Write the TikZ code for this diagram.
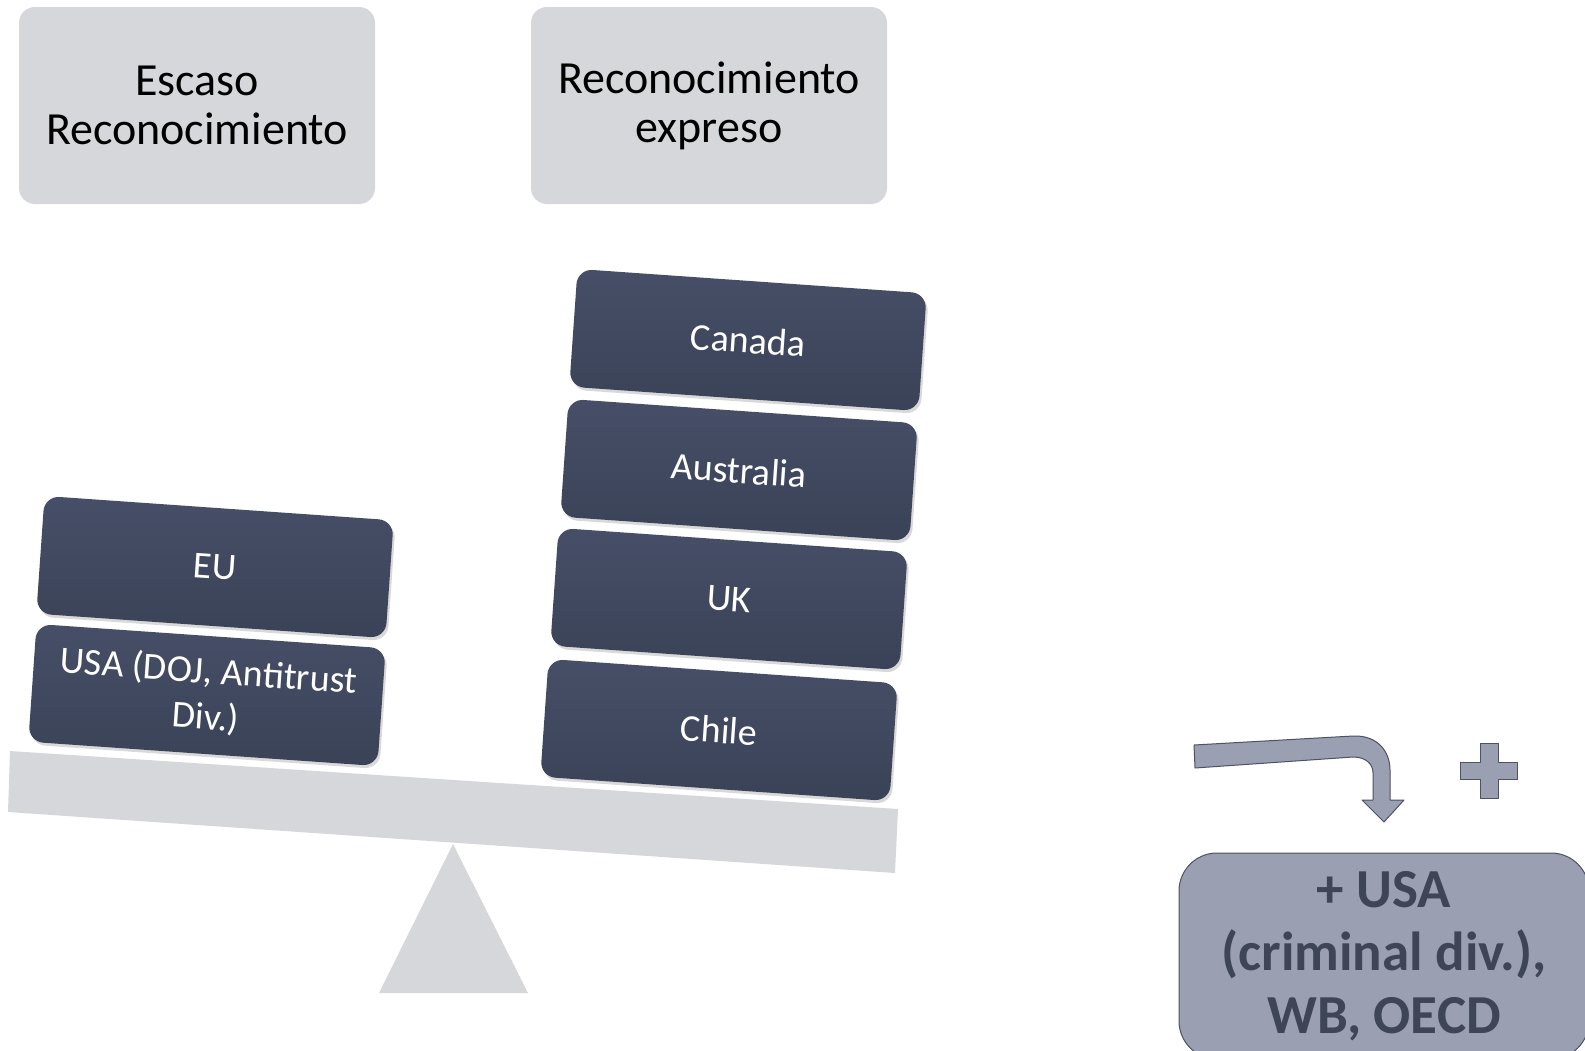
\documentclass[tikz,border=0pt]{standalone}
\usepackage{fontspec}
\setmainfont{Carlito}
\usetikzlibrary{positioning,shadows}
\definecolor{balGray}{RGB}{214,215,219}
\definecolor{balDark}{RGB}{58,66,87}
\definecolor{balDarkTop}{RGB}{70,79,103}
\definecolor{balSlate}{RGB}{154,159,177}
\definecolor{balInk}{RGB}{62,69,87}
\definecolor{balEdge}{RGB}{75,82,100}

\begin{document}
\begin{tikzpicture}[x=1pt,y=-1pt,
  header/.style={fill=balGray, rounded corners=16pt, minimum width=356pt, minimum height=197pt,
    align=center, font=\fontsize{46}{49}\selectfont},
  country/.style={rotate=-4, top color=balDarkTop, bottom color=balDark, rounded corners=15pt,
    minimum width=350pt, minimum height=118pt, align=center, text=white,
    font=\fontsize{38}{46}\selectfont,
    drop shadow={shadow xshift=2pt, shadow yshift=-3pt, opacity=0.3}},
  seesaw/.style={fill=balGray},
  slate/.style={fill=balSlate, draw=balEdge, line width=1pt, line join=round}]
  \useasboundingbox (0,0) rectangle (1585,1050);
  \clip (0,0) rectangle (1585,1050);

  % Headings
  \node[header] (escaso) at (197,105.5) {Escaso\\Reconocimiento};
  \node[header] (expreso) at (709,105.5) {Reconocimiento\\expreso};

  % Seesaw
  \fill[seesaw] (453,844) -- (528,993) -- (379,993) -- cycle;
  \fill[seesaw] (10,751) -- (898,809) -- (895,873) -- (8,812) -- cycle;

  % Left pile
  \node[country] (usa) at (207,695) {USA (DOJ, Antitrust\\Div.)};
  \node[country] (eu) at (215,567) {EU};

  % Right pile
  \foreach \name/\txt/\x/\y in {chile/Chile/719/730, uk/UK/729/599, australia/Australia/739/470, canada/Canada/748/340} {
    \node[country] (\name) at (\x,\y) {\txt};
  }

  % Bent arrow and plus
  \draw[slate] (1194,745) -- (1353,736) .. controls (1378,735) and (1390,752) .. (1390,770)
    -- (1390,800) -- (1404,800) -- (1384,822) -- (1362,800) -- (1373,800) -- (1373,773)
    .. controls (1373,764) and (1366,757) .. (1353,757) -- (1195,768) -- cycle;
  \draw[slate] (1480,743) -- (1498,743) -- (1498,762) -- (1517,762) -- (1517,779) -- (1498,779)
    -- (1498,798) -- (1480,798) -- (1480,779) -- (1460,779) -- (1460,762) -- (1480,762) -- cycle;

  % Result
  \node[slate, rounded corners=38pt, minimum width=410pt, minimum height=206pt, align=center,
    text=balInk, font=\fontsize{55}{63}\bfseries\selectfont] (extra) at (1384,956)
    {+ USA\\(criminal div.),\\WB, OECD};
\end{tikzpicture}
\end{document}
